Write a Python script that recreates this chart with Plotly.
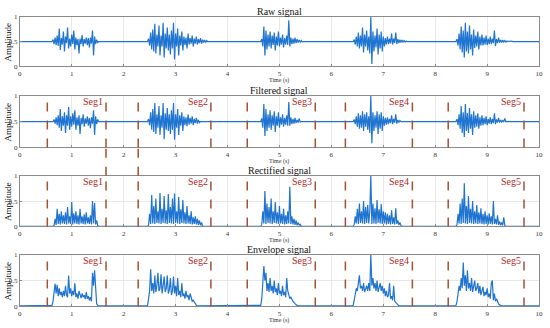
import plotly.graph_objects as go

# ---------------- data ----------------
titles = ["Raw signal", "Filtered signal", "Rectified signal", "Envelope signal"]
x_ticks = [0, 1, 2, 3, 4, 5, 6, 7, 8, 9, 10]
y_ticks = [0, 0.5, 1]
y_tick_text = ["0", "0.5", "1"]
seg_labels = ["Seg1", "Seg2", "Seg3", "Seg4", "Seg5"]
seg_starts = [0.53, 2.28, 4.38, 6.27, 8.25]
seg_ends = [1.66, 3.68, 5.69, 7.56, 9.71]
step = 0.02

raw_baseline = 0.5
raw_starts = [0.64, 2.48, 4.66, 6.44, 8.42]
raw_bursts = [
    [0.54,0.45,0.58,0.43,0.62,0.41,0.76,0.33,0.57,0.44,0.70,0.30,0.60,0.47,0.78,0.36,0.56,0.40,0.64,0.45,0.72,0.34,0.58,0.43,0.55,0.26,0.56,0.45,0.63,0.40,0.55,0.46,0.58,0.43,0.57,0.38,0.58,0.46,0.72,0.22,0.60,0.45,0.54,0.48],
    [0.56,0.42,0.68,0.34,0.74,0.30,0.86,0.26,0.64,0.40,0.82,0.22,0.62,0.40,0.88,0.18,0.66,0.36,0.78,0.32,0.64,0.24,0.72,0.36,0.88,0.14,0.66,0.40,0.76,0.22,0.62,0.42,0.70,0.32,0.60,0.43,0.58,0.36,0.66,0.44,0.57,0.46,0.62,0.40,0.56,0.46,0.60,0.44,0.55,0.47,0.57,0.46,0.54,0.48,0.53,0.48,0.52],
    [0.55,0.40,0.80,0.22,0.72,0.34,0.64,0.40,0.70,0.36,0.62,0.43,0.68,0.32,0.60,0.42,0.70,0.40,0.58,0.44,0.64,0.38,0.57,0.44,0.62,0.43,0.93,0.40,0.58,0.45,0.56,0.46,0.58,0.47,0.55,0.48,0.53,0.49,0.52,0.49],
    [0.54,0.44,0.60,0.40,0.68,0.36,0.62,0.40,0.78,0.28,0.64,0.40,0.72,0.32,0.60,0.26,1.00,0.05,0.70,0.30,0.62,0.38,0.76,0.24,0.64,0.36,0.70,0.30,0.60,0.40,0.57,0.44,0.60,0.45,0.56,0.46,0.66,0.44,0.56,0.47,0.68,0.45,0.55,0.47,0.54,0.48,0.53,0.49,0.52,0.49,0.51],
    [0.55,0.42,0.66,0.34,0.80,0.28,0.72,0.18,0.88,0.30,0.70,0.26,0.82,0.34,0.64,0.22,0.74,0.37,0.62,0.40,0.70,0.34,0.60,0.42,0.64,0.42,0.58,0.44,0.62,0.43,0.56,0.45,0.60,0.45,0.56,0.47,0.72,0.41,0.55,0.47,0.58,0.48,0.53,0.48,0.53,0.49,0.52,0.49,0.51,0.50,0.51,0.50,0.51,0.50],
]

filt_baseline = 0.5
filt_starts = [0.66, 2.48, 4.66, 6.44, 8.42]
filt_bursts = [
    [0.54,0.46,0.58,0.43,0.62,0.38,0.74,0.32,0.60,0.42,0.68,0.28,0.62,0.42,0.78,0.34,0.60,0.40,0.66,0.44,0.72,0.34,0.58,0.42,0.62,0.26,0.57,0.45,0.64,0.40,0.56,0.46,0.60,0.42,0.57,0.37,0.58,0.46,0.72,0.24,0.60,0.45,0.54],
    [0.55,0.43,0.68,0.34,0.74,0.30,0.86,0.26,0.64,0.38,0.80,0.24,0.62,0.38,0.86,0.16,0.66,0.34,0.76,0.32,0.64,0.26,0.72,0.34,0.86,0.15,0.64,0.38,0.74,0.24,0.62,0.42,0.68,0.32,0.60,0.43,0.58,0.41,0.64,0.44,0.57,0.46,0.60,0.43,0.55,0.47,0.57,0.46,0.53,0.48],
    [0.56,0.38,0.84,0.22,0.74,0.32,0.64,0.38,0.72,0.34,0.62,0.42,0.70,0.30,0.60,0.42,0.68,0.38,0.58,0.44,0.64,0.40,0.57,0.44,0.62,0.42,0.88,0.42,0.58,0.45,0.55,0.46,0.57,0.47,0.53,0.48,0.56,0.49],
    [0.54,0.45,0.60,0.40,0.66,0.36,0.62,0.38,0.70,0.32,0.64,0.40,0.68,0.34,0.60,0.28,1.00,0.08,0.68,0.32,0.62,0.38,0.70,0.26,0.64,0.36,0.68,0.32,0.60,0.42,0.57,0.44,0.58,0.45,0.55,0.47,0.62,0.45,0.55,0.48,0.64,0.46,0.53,0.48,0.52],
    [0.55,0.43,0.64,0.36,0.80,0.28,0.68,0.20,0.84,0.32,0.66,0.28,0.76,0.36,0.64,0.24,0.70,0.38,0.62,0.40,0.66,0.36,0.58,0.42,0.62,0.43,0.57,0.45,0.60,0.43,0.55,0.46,0.58,0.45,0.55,0.47,0.66,0.45,0.54,0.48,0.57,0.48,0.53,0.49,0.52,0.50,0.56,0.50],
]

rect_baseline = 0.0
rect_starts = [0.66, 2.48, 4.66, 6.44, 8.42]
rect_bursts = [
    [0.02,0.15,0.03,0.35,0.05,0.25,0.04,0.30,0.06,0.22,0.05,0.28,0.04,0.38,0.06,0.20,0.05,0.48,0.04,0.26,0.06,0.30,0.05,0.22,0.04,0.35,0.06,0.20,0.05,0.24,0.04,0.28,0.06,0.18,0.05,0.22,0.04,0.50,0.06,0.46,0.04,0.12,0.02],
    [0.03,0.25,0.05,0.62,0.06,0.40,0.05,0.55,0.07,0.30,0.06,0.66,0.05,0.35,0.07,0.60,0.06,0.32,0.05,0.64,0.07,0.38,0.06,0.55,0.05,0.65,0.07,0.30,0.06,0.58,0.05,0.34,0.07,0.52,0.06,0.28,0.05,0.40,0.06,0.22,0.05,0.30,0.04,0.18,0.05,0.20,0.04,0.15,0.03,0.12,0.02,0.08],
    [0.04,0.30,0.06,0.70,0.05,0.45,0.07,0.38,0.06,0.55,0.05,0.30,0.07,0.48,0.06,0.28,0.05,0.40,0.06,0.25,0.05,0.35,0.04,0.22,0.05,0.30,0.06,0.78,0.05,0.20,0.04,0.15,0.03,0.12,0.02,0.08,0.02,0.05],
    [0.04,0.20,0.06,0.35,0.05,0.45,0.07,0.30,0.06,0.50,0.05,0.38,0.07,0.42,0.06,0.30,1.00,0.05,0.45,0.06,0.36,0.05,0.52,0.07,0.34,0.06,0.44,0.05,0.30,0.06,0.28,0.04,0.25,0.05,0.22,0.04,0.32,0.05,0.18,0.04,0.36,0.05,0.12,0.03,0.08,0.02],
    [0.04,0.25,0.06,0.45,0.05,0.55,0.07,0.85,0.06,0.40,0.05,0.60,0.07,0.35,0.06,0.50,0.05,0.30,0.06,0.42,0.05,0.28,0.06,0.36,0.05,0.25,0.04,0.30,0.05,0.22,0.04,0.26,0.05,0.20,0.04,0.50,0.05,0.15,0.04,0.22,0.03,0.10,0.02,0.08,0.02,0.18,0.02],
]

env_baseline = 0.01
env_starts = [0.62, 2.46, 4.64, 6.42, 8.40]
env_bursts = [
    [0.02,0.10,0.30,0.44,0.25,0.42,0.20,0.35,0.22,0.28,0.18,0.30,0.20,0.40,0.22,0.18,0.60,0.25,0.35,0.20,0.30,0.22,0.45,0.18,0.25,0.15,0.30,0.20,0.16,0.25,0.18,0.22,0.14,0.28,0.15,0.20,0.12,0.18,0.10,0.65,0.40,0.70,0.20,0.05,0.02],
    [0.02,0.15,0.30,0.72,0.30,0.45,0.25,0.60,0.28,0.40,0.65,0.30,0.35,0.62,0.25,0.40,0.58,0.28,0.35,0.60,0.25,0.32,0.55,0.22,0.30,0.58,0.25,0.40,0.20,0.55,0.22,0.30,0.18,0.45,0.20,0.25,0.15,0.30,0.18,0.22,0.12,0.25,0.15,0.10,0.12,0.08,0.05,0.02],
    [0.02,0.15,0.40,0.78,0.50,0.65,0.30,0.45,0.28,0.55,0.30,0.40,0.25,0.50,0.28,0.35,0.22,0.45,0.25,0.30,0.20,0.40,0.22,0.28,0.18,0.55,0.30,0.22,0.15,0.18,0.12,0.10,0.08,0.05,0.03,0.02],
    [0.02,0.12,0.25,0.35,0.30,0.45,0.60,0.35,0.40,0.30,0.45,0.28,0.35,0.40,0.30,0.45,0.30,1.00,0.40,0.55,0.35,0.45,0.30,0.50,0.28,0.35,0.45,0.30,0.40,0.25,0.35,0.20,0.30,0.18,0.22,0.45,0.15,0.20,0.12,0.40,0.10,0.08,0.05,0.02],
    [0.02,0.10,0.25,0.40,0.30,0.55,0.35,0.85,0.40,0.60,0.30,0.70,0.35,0.45,0.30,0.55,0.28,0.40,0.50,0.30,0.35,0.45,0.25,0.40,0.22,0.30,0.38,0.20,0.28,0.22,0.35,0.18,0.25,0.15,0.45,0.50,0.12,0.25,0.10,0.15,0.08,0.05,0.03,0.02],
]

# ---------------- styling / layout ----------------
W, H = 550, 328
PX_L, PX_R = 18, 543
panel_px = [(13, 64), (94, 147), (176, 228), (257, 310)]
LINE_COLOR = "#1f74d0"
SEG_LINE = "#a5502e"
SEG_TEXT = "#b3261e"
SERIF = "Liberation Serif"


def build(starts, bursts, base):
    xs, ys = [0.0], [base]
    for s, vals in zip(starts, bursts):
        xs.append(s - step)
        ys.append(base)
        for i, v in enumerate(vals):
            xs.append(s + i * step)
            ys.append(v)
        xs.append(s + len(vals) * step)
        ys.append(base)
    xs.append(10.0)
    ys.append(base)
    return xs, ys


series = [
    build(raw_starts, raw_bursts, raw_baseline),
    build(filt_starts, filt_bursts, filt_baseline),
    build(rect_starts, rect_bursts, rect_baseline),
    build(env_starts, env_bursts, env_baseline),
]

fig = go.Figure()
layout = dict(
    width=W, height=H, margin=dict(l=0, r=0, t=0, b=0),
    paper_bgcolor="white", plot_bgcolor="white", showlegend=False,
)
shapes, annotations = [], []

xdom = [PX_L / W, PX_R / W]
for k, ((xs, ys), (top, bot)) in enumerate(zip(series, panel_px)):
    n = k + 1
    xa = "x" if n == 1 else f"x{n}"
    ya = "y" if n == 1 else f"y{n}"
    fig.add_trace(go.Scatter(x=xs, y=ys, mode="lines", xaxis=xa, yaxis=ya,
                             line=dict(color=LINE_COLOR, width=1.2), hoverinfo="skip"))
    ydom = [1 - bot / H, 1 - top / H]
    axis_common = dict(showline=True, linecolor="#8a8a8a", linewidth=1, mirror=True,
                       showgrid=True, gridcolor="#e8e8e8", gridwidth=1, zeroline=False,
                       ticks="inside", ticklen=2, tickcolor="#8a8a8a",
                       ticklabeloverflow="allow",
                       tickfont=dict(family=SERIF, size=7, color="#333333"))
    layout["xaxis" if n == 1 else f"xaxis{n}"] = dict(
        domain=xdom, range=[0, 10], anchor=ya, tickmode="array",
        tickvals=x_ticks, ticktext=[str(v) for v in x_ticks], **axis_common)
    layout["yaxis" if n == 1 else f"yaxis{n}"] = dict(
        domain=ydom, range=[0, 1], anchor=xa, tickvals=y_ticks, ticktext=y_tick_text, **axis_common)
    # title
    annotations.append(dict(text=titles[k], xref="paper", yref="paper",
                            x=(PX_L + PX_R) / 2 / W, y=1 - top / H, yanchor="bottom",
                            xanchor="center", showarrow=False, yshift=-1, borderpad=0,
                            font=dict(family=SERIF, size=10, color="#111111")))
    # y label
    annotations.append(dict(text="Amplitude", xref="paper", yref="paper",
                            x=6 / W, y=1 - (top + bot) / 2 / H, textangle=-90,
                            xanchor="center", yanchor="middle", showarrow=False,
                            font=dict(family=SERIF, size=9, color="black")))
    # x label
    annotations.append(dict(text="Time (s)", xref="paper", yref="paper",
                            x=(PX_L + PX_R) / 2 / W, y=1 - (bot + 10) / H, yanchor="top",
                            xanchor="center", showarrow=False, borderpad=0,
                            font=dict(family=SERIF, size=6, color="#333333")))
    if k >= 1:
        for j in range(len(seg_labels)):
            for xv in (seg_starts[j], seg_ends[j]):
                shapes.append(dict(type="line", xref=xa, yref=f"{ya} domain",
                                   x0=xv, x1=xv, y0=0, y1=1,
                                   line=dict(color=SEG_LINE, width=1.5, dash="dash")))
            annotations.append(dict(text=seg_labels[j], xref=xa, yref=f"{ya} domain",
                                    x=seg_ends[j], y=0.88, xanchor="right", yanchor="middle",
                                    xshift=-1, showarrow=False,
                                    font=dict(family=SERIF, size=10, color=SEG_TEXT)))

# two boundary lines that continue from the filtered panel into the rectified panel
for xv in (seg_ends[0], seg_starts[1]):
    shapes.append(dict(type="line", xref="x3", yref="paper", x0=xv, x1=xv,
                       y0=1 - panel_px[2][0] / H, y1=1 - panel_px[1][1] / H,
                       line=dict(color=SEG_LINE, width=1.5, dash="dash")))

layout["shapes"] = shapes
layout["annotations"] = annotations
fig.update_layout(**layout)
fig.write_html(
    "out.html",
    config={"displayModeBar": False},
    post_script="document.body.style.margin='0px';document.body.style.overflow='hidden';",
)
